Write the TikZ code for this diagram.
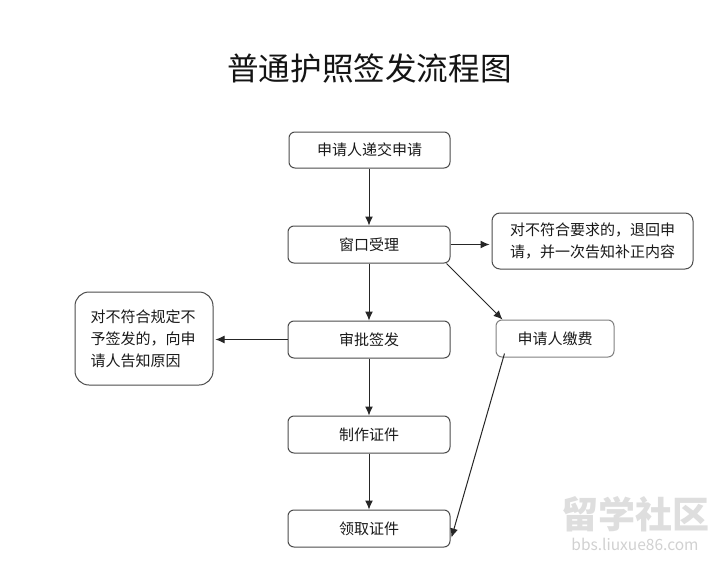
\documentclass[tikz,border=0pt]{standalone}
\usepackage{fontspec}
\setmainfont{Noto Sans CJK SC}
\usetikzlibrary{arrows.meta}
\tikzset{
  box/.style={draw=black!70,line width=1pt,rounded corners=6pt,fill=white,inner sep=0pt,align=center,font=\fontsize{15}{22}\selectfont,text=black!90},
  flow/.style={draw=black!85,line width=1pt,-{Latex[length=9pt,width=8pt]}},
}
\newcommand{\bx}[6]{\node[box,#6,minimum width=#3pt,minimum height=#4pt,anchor=north west] (#1) at (#2) {#5};}
\begin{document}
\begin{tikzpicture}[x=1pt,y=-1pt]
\useasboundingbox (0,0) rectangle (726,565);
\fill[white] (0,0) rectangle (726,565);
\node[font=\fontsize{31.6}{36}\selectfont,text=black!92] (title) at (369.5,68.5) {普通护照签发流程图};
\bx{a}{288.5,131.5}{161}{36}{申请人递交申请}{}
\bx{b}{287.5,225.5}{162}{37}{窗口受理}{}
\bx{c}{491.5,212.5}{201}{56}{对不符合要求的，退回申\\请，并一次告知补正内容}{rounded corners=8pt}
\bx{d}{495.5,319.5}{118}{37}{申请人缴费}{draw=black!50}
\bx{e}{287.5,320.5}{162}{37}{审批签发}{}
\bx{f}{74.5,291.5}{138}{93}{对不符合规定不\\予签发的，向申\\请人告知原因}{rounded corners=14pt,text width=107pt,align=left}
\bx{g}{287.5,415.5}{162}{37}{制作证件}{}
\bx{h}{287.5,509.5}{162}{37}{领取证件}{}
\coordinate (bd1) at ([xshift=-4pt]b.south east);
\coordinate (bd2) at ([xshift=7pt]d.north west);
\coordinate (dh1) at ([xshift=9pt,yshift=4pt]d.south west);
\coordinate (dh2) at ([xshift=1pt]h.east);
\draw[flow] (a.south -| 369,0) -- (b.north -| 369,0);
\draw[flow] (b.east) -- ([xshift=-2pt]c.west |- b.east);
\draw[flow] (b.south -| 369,0) -- (e.north -| 369,0);
\draw[flow] (bd1) -- (bd2);
\draw[flow] (e.west) -- ([xshift=2pt]f.east |- e.west);
\draw[flow] (e.south -| 369,0) -- (g.north -| 369,0);
\draw[flow] (g.south -| 369,0) -- (h.north -| 369,0);
\draw[flow] (dh1) -- ([yshift=-9pt]dh2);
\node[font=\bfseries\fontsize{37}{38}\selectfont,text=black!13,inner sep=0pt] (wm1) at (635,514) {留学社区};
\node[font=\fontsize{15.5}{16}\selectfont,text=black!18,inner sep=0pt] (wm2) at (635,544) {bbs.liuxue86.com};
\end{tikzpicture}
\end{document}
